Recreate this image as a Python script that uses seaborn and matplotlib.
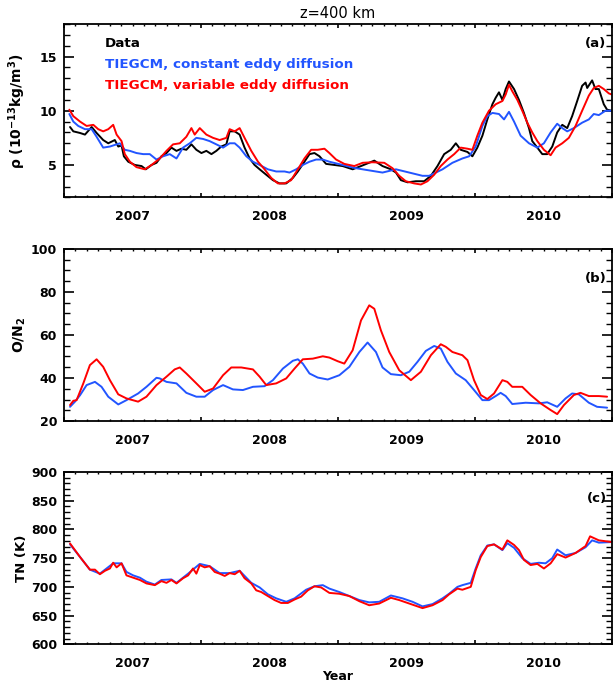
import matplotlib
matplotlib.use("Agg")
import matplotlib.pyplot as plt
from matplotlib.ticker import MultipleLocator, NullFormatter, FuncFormatter
import seaborn as sns
import pandas as pd

# ---------------- data ----------------
# Panel (a): neutral density, 10^-13 kg/m^3
rho_data_t = [2007.044, 2007.068, 2007.117, 2007.153, 2007.202, 2007.238, 2007.286, 2007.323, 2007.371,
              2007.396, 2007.420, 2007.437, 2007.469, 2007.517, 2007.566, 2007.597, 2007.639, 2007.675,
              2007.711, 2007.748, 2007.784, 2007.821, 2007.857, 2007.893, 2007.930, 2007.966, 2008.003,
              2008.039, 2008.076, 2008.112, 2008.148, 2008.185, 2008.209, 2008.246, 2008.282, 2008.318,
              2008.355, 2008.391, 2008.428, 2008.476, 2008.525, 2008.573, 2008.622, 2008.670, 2008.707,
              2008.755, 2008.792, 2008.828, 2008.865, 2008.913, 2009.034, 2009.107, 2009.168, 2009.265,
              2009.325, 2009.386, 2009.423, 2009.459, 2009.508, 2009.568, 2009.629, 2009.678, 2009.726,
              2009.775, 2009.823, 2009.860, 2009.896, 2009.945, 2009.981, 2010.017, 2010.054, 2010.090,
              2010.127, 2010.151, 2010.175, 2010.200, 2010.224, 2010.248, 2010.285, 2010.321, 2010.357,
              2010.394, 2010.418, 2010.455, 2010.491, 2010.527, 2010.564, 2010.600, 2010.637, 2010.673,
              2010.709, 2010.746, 2010.782, 2010.807, 2010.819, 2010.855, 2010.879, 2010.904, 2010.940,
              2010.964, 2010.998]
rho_data_v = [8.5, 8.1, 7.95, 7.8, 8.5, 7.95, 7.3, 7.0, 7.3,
              6.7, 6.8, 5.8, 5.3, 5.0, 4.9, 4.6, 5.0, 5.2,
              5.8, 6.1, 6.6, 6.3, 6.5, 6.4, 6.9, 6.4, 6.1,
              6.3, 6.0, 6.3, 6.7, 6.9, 8.1, 8.1, 7.8, 6.6,
              5.6, 5.0, 4.6, 4.1, 3.6, 3.3, 3.3, 3.8, 4.4,
              5.3, 6.0, 6.1, 5.8, 5.1, 4.9, 4.6, 4.9, 5.4,
              4.9, 4.6, 4.3, 3.6, 3.4, 3.5, 3.5, 4.0, 4.9,
              6.0, 6.4, 7.0, 6.4, 6.2, 5.8, 6.6, 7.7, 9.2,
              10.6, 11.2, 11.7, 11.0, 12.0, 12.7, 12.0, 11.0, 9.8,
              8.4, 7.2, 6.6, 6.0, 6.0, 6.7, 8.0, 8.7, 8.4,
              9.5, 10.9, 12.3, 12.6, 12.1, 12.8, 12.0, 12.0, 10.6,
              10.1, 10.0]

rho_const_t = [2007.039, 2007.068, 2007.104, 2007.153, 2007.202, 2007.238, 2007.286, 2007.335, 2007.384,
               2007.408, 2007.444, 2007.481, 2007.529, 2007.578, 2007.626, 2007.675, 2007.723, 2007.772,
               2007.821, 2007.869, 2007.918, 2007.966, 2008.015, 2008.063, 2008.112, 2008.161, 2008.209,
               2008.246, 2008.282, 2008.331, 2008.379, 2008.428, 2008.488, 2008.549, 2008.610, 2008.646,
               2008.695, 2008.743, 2008.792, 2008.840, 2008.889, 2008.937, 2009.034, 2009.131, 2009.228,
               2009.325, 2009.423, 2009.520, 2009.617, 2009.665, 2009.714, 2009.763, 2009.835, 2009.908,
               2009.957, 2010.005, 2010.054, 2010.090, 2010.127, 2010.175, 2010.212, 2010.248, 2010.285,
               2010.333, 2010.394, 2010.455, 2010.503, 2010.552, 2010.600, 2010.637, 2010.673, 2010.722,
               2010.782, 2010.831, 2010.867, 2010.904, 2010.952, 2010.998]
rho_const_v = [9.7, 9.0, 8.6, 8.3, 8.3, 7.6, 6.6, 6.7, 6.9,
               7.0, 6.4, 6.3, 6.1, 6.0, 6.0, 5.5, 5.8, 6.0,
               5.6, 6.6, 7.0, 7.5, 7.4, 7.2, 6.9, 6.6, 7.0,
               7.0, 6.6, 5.8, 5.3, 5.0, 4.6, 4.4, 4.4, 4.3,
               4.6, 5.0, 5.3, 5.5, 5.5, 5.3, 5.0, 4.7, 4.5,
               4.3, 4.6, 4.3, 4.0, 4.0, 4.3, 4.6, 5.2, 5.6,
               5.8, 6.7, 8.6, 9.5, 9.8, 9.7, 9.2, 9.9, 9.0,
               7.7, 7.0, 6.6, 7.0, 8.0, 8.8, 8.4, 8.1, 8.4,
               8.9, 9.2, 9.7, 9.6, 10.0, 10.0]

rho_var_t = [2007.039, 2007.068, 2007.117, 2007.165, 2007.214, 2007.250, 2007.286, 2007.323, 2007.359,
             2007.384, 2007.420, 2007.444, 2007.481, 2007.529, 2007.590, 2007.639, 2007.699, 2007.748,
             2007.796, 2007.845, 2007.893, 2007.930, 2007.954, 2007.991, 2008.039, 2008.088, 2008.136,
             2008.185, 2008.209, 2008.246, 2008.282, 2008.318, 2008.367, 2008.416, 2008.464, 2008.513,
             2008.561, 2008.610, 2008.658, 2008.707, 2008.755, 2008.804, 2008.852, 2008.901, 2008.937,
             2008.986, 2009.046, 2009.119, 2009.180, 2009.253, 2009.338, 2009.398, 2009.447, 2009.495,
             2009.556, 2009.605, 2009.653, 2009.702, 2009.750, 2009.799, 2009.848, 2009.896, 2009.945,
             2009.981, 2010.017, 2010.054, 2010.102, 2010.151, 2010.200, 2010.224, 2010.248, 2010.272,
             2010.309, 2010.345, 2010.382, 2010.418, 2010.455, 2010.503, 2010.552, 2010.588, 2010.637,
             2010.685, 2010.734, 2010.782, 2010.831, 2010.867, 2010.904, 2010.940, 2010.977, 2010.998]
rho_var_v = [10.1, 9.5, 9.0, 8.6, 8.7, 8.3, 8.1, 8.3, 8.7,
             7.8, 7.2, 6.0, 5.3, 4.8, 4.6, 5.0, 5.6, 6.3,
             6.9, 7.0, 7.6, 8.4, 7.8, 8.4, 7.8, 7.5, 7.3,
             7.5, 8.3, 8.1, 8.4, 7.5, 6.3, 5.3, 4.6, 3.8,
             3.3, 3.3, 3.6, 4.6, 5.6, 6.4, 6.4, 6.5, 6.1,
             5.5, 5.1, 4.9, 5.2, 5.25, 5.2, 4.7, 4.0, 3.5,
             3.3, 3.2, 3.5, 4.1, 4.9, 5.5, 6.0, 6.6, 6.5,
             6.4, 7.7, 8.9, 10.0, 10.6, 10.9, 11.5, 12.4, 11.8,
             11.0, 10.0, 8.9, 8.0, 7.2, 6.4, 5.9, 6.6, 7.0,
             7.5, 8.6, 10.0, 11.4, 12.1, 12.3, 12.0, 11.6, 11.5]

# Panel (b): O/N2
on2_const_t = [2007.044, 2007.080, 2007.117, 2007.165, 2007.226, 2007.274, 2007.323, 2007.396, 2007.456,
               2007.541, 2007.602, 2007.675, 2007.699, 2007.748, 2007.821, 2007.893, 2007.966, 2008.027,
               2008.088, 2008.161, 2008.233, 2008.306, 2008.379, 2008.464, 2008.525, 2008.598, 2008.670,
               2008.707, 2008.743, 2008.792, 2008.852, 2008.925, 2009.010, 2009.083, 2009.156, 2009.216,
               2009.277, 2009.325, 2009.386, 2009.459, 2009.520, 2009.580, 2009.641, 2009.702, 2009.750,
               2009.799, 2009.860, 2009.932, 2009.993, 2010.054, 2010.102, 2010.151, 2010.187, 2010.224,
               2010.272, 2010.370, 2010.467, 2010.527, 2010.600, 2010.661, 2010.709, 2010.758, 2010.831,
               2010.891, 2010.964]
on2_const_v = [26.6, 29.0, 32.0, 36.7, 38.2, 35.9, 31.3, 27.7, 29.7,
               32.8, 35.9, 40.1, 39.8, 38.2, 37.5, 33.1, 31.3, 31.3,
               34.4, 36.7, 34.7, 34.4, 35.9, 36.2, 39.0, 44.4, 48.0,
               48.7, 46.7, 42.1, 40.2, 39.3, 41.3, 45.2, 52.1, 56.5,
               52.1, 44.9, 41.8, 41.3, 42.9, 47.5, 52.6, 54.9, 53.7,
               47.5, 42.1, 39.0, 34.4, 29.7, 29.7, 31.6, 33.1, 31.6,
               27.9, 28.5, 28.2, 28.7, 26.6, 30.5, 32.8, 32.4, 28.5,
               26.6, 26.2]

on2_var_t = [2007.044, 2007.068, 2007.092, 2007.141, 2007.189, 2007.238, 2007.286, 2007.335, 2007.396,
             2007.456, 2007.541, 2007.602, 2007.675, 2007.748, 2007.808, 2007.845, 2007.893, 2007.966,
             2008.027, 2008.088, 2008.161, 2008.221, 2008.294, 2008.379, 2008.428, 2008.476, 2008.549,
             2008.622, 2008.683, 2008.743, 2008.816, 2008.889, 2008.937, 2008.998, 2009.046, 2009.107,
             2009.168, 2009.228, 2009.265, 2009.313, 2009.374, 2009.447, 2009.532, 2009.605, 2009.678,
             2009.750, 2009.787, 2009.835, 2009.908, 2009.945, 2009.993, 2010.042, 2010.090, 2010.139,
             2010.200, 2010.236, 2010.272, 2010.345, 2010.406, 2010.479, 2010.552, 2010.600, 2010.649,
             2010.722, 2010.770, 2010.831, 2010.904, 2010.964]
on2_var_v = [27.4, 29.4, 29.7, 37.5, 46.0, 48.7, 45.2, 39.0, 32.4,
             30.5, 29.0, 31.3, 36.7, 40.6, 44.0, 44.9, 42.1, 37.5,
             33.6, 35.1, 41.3, 44.9, 44.9, 44.0, 40.6, 36.7, 37.5,
             39.8, 44.4, 48.7, 49.0, 50.1, 49.5, 47.8, 46.7, 52.9,
             66.8, 73.8, 72.2, 62.2, 52.1, 43.6, 39.0, 42.9, 50.6,
             55.7, 54.5, 52.1, 50.6, 48.3, 39.0, 32.1, 30.2, 32.8,
             39.0, 38.2, 35.9, 35.9, 32.1, 28.2, 25.1, 23.2, 27.4,
             32.1, 33.1, 31.6, 31.6, 31.3]

# Panel (c): neutral temperature, K
tn_const_t = [2007.044, 2007.117, 2007.189, 2007.262, 2007.359, 2007.420, 2007.456, 2007.505, 2007.554,
              2007.602, 2007.663, 2007.711, 2007.784, 2007.821, 2007.906, 2007.991, 2008.063, 2008.136,
              2008.209, 2008.282, 2008.367, 2008.428, 2008.488, 2008.549, 2008.622, 2008.683, 2008.767,
              2008.828, 2008.889, 2008.937, 2009.010, 2009.156, 2009.228, 2009.301, 2009.386, 2009.471,
              2009.544, 2009.617, 2009.690, 2009.763, 2009.811, 2009.872, 2009.908, 2009.969, 2010.005,
              2010.042, 2010.090, 2010.139, 2010.200, 2010.236, 2010.285, 2010.345, 2010.406, 2010.467,
              2010.515, 2010.564, 2010.600, 2010.661, 2010.734, 2010.807, 2010.855, 2010.904, 2010.998]
tn_const_v = [774, 752, 730, 723, 741, 741, 726, 720, 716,
              709, 704, 712, 713, 707, 723, 740, 736, 724,
              724, 728, 707, 699, 687, 680, 674, 680, 695,
              701, 703, 697, 691, 677, 673, 674, 685, 680,
              674, 666, 670, 680, 688, 700, 703, 707, 732,
              755, 772, 774, 764, 776, 768, 750, 740, 742,
              741, 750, 765, 755, 759, 769, 781, 777, 778]

tn_var_t = [2007.044, 2007.080, 2007.117, 2007.153, 2007.189, 2007.226, 2007.262, 2007.299, 2007.335,
            2007.359, 2007.384, 2007.420, 2007.456, 2007.505, 2007.554, 2007.602, 2007.663, 2007.711,
            2007.748, 2007.784, 2007.821, 2007.869, 2007.906, 2007.942, 2007.966, 2007.991, 2008.027,
            2008.063, 2008.100, 2008.136, 2008.173, 2008.209, 2008.246, 2008.282, 2008.318, 2008.367,
            2008.403, 2008.440, 2008.488, 2008.537, 2008.585, 2008.634, 2008.683, 2008.731, 2008.780,
            2008.828, 2008.877, 2008.937, 2009.010, 2009.083, 2009.156, 2009.228, 2009.301, 2009.386,
            2009.447, 2009.520, 2009.617, 2009.690, 2009.763, 2009.811, 2009.872, 2009.908, 2009.969,
            2010.005, 2010.042, 2010.090, 2010.139, 2010.200, 2010.236, 2010.285, 2010.321, 2010.357,
            2010.406, 2010.455, 2010.503, 2010.552, 2010.600, 2010.661, 2010.734, 2010.807, 2010.840,
            2010.904, 2010.998]
tn_var_v = [775.6, 764, 752, 741, 730, 730, 722, 728, 732,
            742, 734, 741, 720, 716, 712, 706, 703, 710,
            707, 712, 706, 715, 720, 732, 723, 738, 734,
            736, 726, 723, 719, 724, 722, 728, 715, 706,
            694, 691, 684, 677, 672, 672, 678, 683, 694,
            701, 699, 689.5, 688, 684, 675, 668, 671, 681,
            677, 671, 663, 668, 677, 687, 697, 695, 700,
            729, 752, 771, 774, 765, 781, 773, 764, 747,
            738, 740, 732, 741, 757, 751, 759, 771, 788,
            781, 778]

series_names = ["Data", "TIEGCM, constant eddy diffusion", "TIEGCM, variable eddy diffusion"]
series_colors = ["black", "#2255ff", "#ff0000"]
year_labels = [2007, 2008, 2009, 2010]

# ---------------- style ----------------
sns.set_style("ticks")
plt.rcParams["font.family"] = ["DejaVu Sans"]
plt.rcParams["mathtext.fontset"] = "dejavusans"
plt.rcParams["axes.linewidth"] = 1.3
for k in ["text.color", "axes.labelcolor", "xtick.color", "ytick.color", "axes.edgecolor"]:
    plt.rcParams[k] = "black"

W, H = 613, 685
fig = plt.figure(figsize=(W / 100, H / 100), dpi=100)


def rect(top, bottom, left=64, right=612):
    return [left / W, 1 - bottom / H, (right - left) / W, (bottom - top) / H]


ax_a = fig.add_axes(rect(24, 197.5))
ax_b = fig.add_axes(rect(249, 421))
ax_c = fig.add_axes(rect(472, 644.3))

palette = dict(zip(series_names, series_colors))


def long_df(pairs):
    frames = []
    for name, t, v in pairs:
        frames.append(pd.DataFrame({"year": t, "value": v, "series": name}))
    return pd.concat(frames, ignore_index=True)


df_a = long_df([(series_names[0], rho_data_t, rho_data_v),
                (series_names[1], rho_const_t, rho_const_v),
                (series_names[2], rho_var_t, rho_var_v)])
df_b = long_df([(series_names[1], on2_const_t, on2_const_v),
                (series_names[2], on2_var_t, on2_var_v)])
df_c = long_df([(series_names[1], tn_const_t, tn_const_v),
                (series_names[2], tn_var_t, tn_var_v)])

for ax, df in [(ax_a, df_a), (ax_b, df_b), (ax_c, df_c)]:
    sns.lineplot(data=df, x="year", y="value", hue="series", palette=palette,
                 estimator=None, legend=False, linewidth=1.4, ax=ax)


def year_fmt(v, pos):
    r = round(v - 0.5)
    if abs(v - 0.5 - r) < 1e-3 and r in year_labels:
        return str(r)
    return ""


specs = [(ax_a, (2, 18), 5, 1), (ax_b, (20, 100), 20, 5), (ax_c, (600, 900), 50, 10)]
for ax, ylim, ymaj, ymin in specs:
    ax.set_xlim(2007.0, 2011.0)
    ax.set_ylim(*ylim)
    ax.xaxis.set_major_locator(MultipleLocator(1))
    ax.xaxis.set_major_formatter(NullFormatter())
    ax.xaxis.set_minor_locator(MultipleLocator(1 / 12))
    ax.xaxis.set_minor_formatter(FuncFormatter(year_fmt))
    ax.yaxis.set_major_locator(MultipleLocator(ymaj))
    ax.yaxis.set_minor_locator(MultipleLocator(ymin))
    ax.tick_params(which="both", direction="in", top=True, right=True, colors="black",
                   labelcolor="black")
    ax.tick_params(axis="x", which="major", length=3.2, width=1.2)
    ax.tick_params(axis="x", which="minor", length=1.6, width=1.0, pad=9,
                   labelsize=9)
    ax.tick_params(axis="y", which="major", length=7.5, width=1.2, pad=5,
                   labelsize=9)
    ax.tick_params(axis="y", which="minor", length=4, width=1.0)
    for lab in ax.get_xticklabels(minor=True) + ax.get_yticklabels():
        lab.set_fontweight("bold")
    for s in ax.spines.values():
        s.set_color("black")
        s.set_linewidth(1.3)
    ax.set_xlabel("")

ax_a.set_ylabel(r"$\mathbf{\rho}$ (10$^{\mathbf{-13}}$kg/m$^{\mathbf{3}}$)", fontsize=10, fontweight="bold")
ax_b.set_ylabel(r"O/N$_{\mathbf{2}}$", fontsize=10, fontweight="bold")
ax_c.set_ylabel("TN (K)", fontsize=9.5, fontweight="bold")
for ax in (ax_a, ax_b, ax_c):
    ax.yaxis.set_label_coords(-0.066, 0.5)

# legend texts in panel (a)
for name, col, y in zip(series_names, series_colors, [0.889, 0.769, 0.648]):
    ax_a.text(0.075, y, name, color=col, transform=ax_a.transAxes, ha="left", va="center",
              fontsize=9.7, fontweight="bold")

for ax, lab, y in [(ax_a, "(a)", 0.888), (ax_b, "(b)", 0.828), (ax_c, "(c)", 0.849)]:
    ax.text(0.99, y, lab, transform=ax.transAxes, ha="right", va="center",
            fontsize=9.5, fontweight="bold")

fig.text(338 / W, 1 - 13 / H, "z=400 km", ha="center", va="center", fontsize=10.5)
fig.text(338 / W, 1 - 677 / H, "Year", ha="center", va="center", fontsize=9, fontweight="bold")

fig.savefig("out.png", dpi=100, facecolor="white")
